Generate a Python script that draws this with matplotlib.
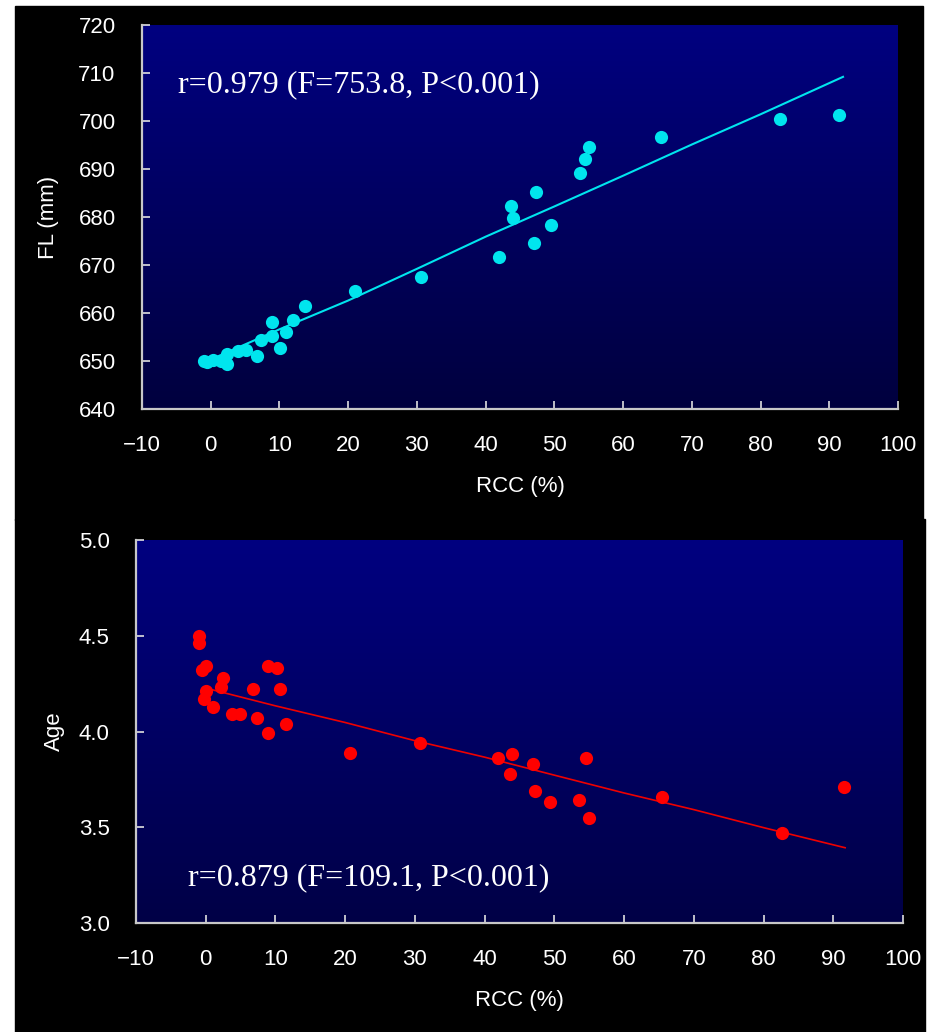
import numpy as np
import matplotlib
matplotlib.use("Agg")
import matplotlib.pyplot as plt
from matplotlib.patches import Rectangle

# --- data ---
# top panel: fork length vs RCC
rcc_fl = [-1.0, -0.5, 0.3, 1.5, 2.4, 2.4, 4.0, 5.1, 6.7, 7.3, 8.9, 8.9, 10.1, 11.0,
          11.9, 13.7, 21.0, 30.6, 41.9, 43.7, 44.0, 47.0, 47.3, 49.5, 53.7, 54.5,
          55.0, 65.5, 82.8, 91.4]
fl = [650.0, 649.8, 650.2, 650.0, 651.5, 649.4, 652.1, 652.3, 651.0, 654.4, 658.1,
      655.2, 652.7, 656.0, 658.5, 661.5, 664.6, 667.5, 671.7, 682.3, 679.8, 674.6,
      685.2, 678.3, 689.2, 692.1, 694.6, 696.7, 700.4, 701.2]
fl_line_x = [-0.5, 10, 20, 30, 40, 50, 60, 70, 80, 92]
fl_line_y = [650.0, 656.6, 662.6, 669.2, 675.9, 682.2, 688.6, 695.1, 701.4, 709.2]

# bottom panel: age vs RCC
rcc_age = [-0.9, -0.9, 0.0, -0.6, 2.5, 2.2, 0.0, -0.3, 1.1, 3.8, 4.9, 6.8, 7.4, 9.0,
           10.2, 10.7, 11.5, 9.0, 20.7, 30.7, 41.9, 43.9, 43.6, 47.0, 54.6, 47.2,
           49.4, 53.5, 54.9, 65.4, 82.7, 91.5]
age = [4.50, 4.46, 4.34, 4.32, 4.28, 4.23, 4.21, 4.17, 4.13, 4.09, 4.09, 4.22, 4.07,
       4.34, 4.33, 4.22, 4.04, 3.99, 3.89, 3.94, 3.86, 3.88, 3.78, 3.83, 3.86, 3.69,
       3.63, 3.64, 3.55, 3.66, 3.47, 3.71]
age_line_x = [0.5, 10, 20, 30, 40, 50, 60, 70, 80, 91.7]
age_line_y = [4.222, 4.134, 4.047, 3.952, 3.866, 3.772, 3.679, 3.592, 3.498, 3.393]

x_ticks = [-10, 0, 10, 20, 30, 40, 50, 60, 70, 80, 90, 100]
fl_ticks = [640, 650, 660, 670, 680, 690, 700, 710, 720]
age_ticks = [3.0, 3.5, 4.0, 4.5, 5.0]

SANS = ["Liberation Sans", "DejaVu Sans"]
SERIF = ["Liberation Serif", "DejaVu Serif"]

fig = plt.figure(figsize=(9.28, 10.32), dpi=100, facecolor="white")
W, H = 928.0, 1032.0

# black panel backgrounds, kept behind the axes
fig.add_artist(Rectangle((15 / W, 1 - 520 / H), 908 / W, 514 / H,
                         transform=fig.transFigure, color="black", zorder=-10))
fig.add_artist(Rectangle((15 / W, 0), 910 / W, 1 - 520 / H + 0.001,
                         transform=fig.transFigure, color="black", zorder=-10))


def gradient(ax, top=(0, 0, 128), bottom=(0, 0, 62)):
    g = np.linspace(0, 1, 256)[:, None]
    t = np.array(top) / 255.0
    b = np.array(bottom) / 255.0
    img = (t[None, None, :] * (1 - g[..., None]) + b[None, None, :] * g[..., None])
    ax.imshow(img, extent=[0, 1, 0, 1], transform=ax.transAxes, aspect="auto",
              zorder=0, interpolation="bilinear")


def style(ax):
    for s in ["top", "right"]:
        ax.spines[s].set_visible(False)
    for s in ["left", "bottom"]:
        ax.spines[s].set_color("#c8c8c8")
        ax.spines[s].set_linewidth(1.6)
    ax.tick_params(direction="in", length=6, width=1.2, color="#e0e0e0",
                   labelcolor="white", labelsize=16, pad=19)
    for lab in ax.get_xticklabels() + ax.get_yticklabels():
        lab.set_family(SANS)


# --- top panel ---
ax1 = fig.add_axes([142 / W, 1 - 409 / H, 756 / W, 384 / H])
ax1.set_facecolor("none")
gradient(ax1)
ax1.plot(fl_line_x, fl_line_y, color="#00e5ee", lw=1.5, zorder=2)
ax1.plot(rcc_fl, fl, "o", color="#00e5ee", ms=9.5, mec="none", zorder=3)
ax1.set_xlim(-10, 100)
ax1.set_ylim(640, 720)
ax1.set_xticks(x_ticks)
ax1.set_yticks(fl_ticks)
style(ax1)
ax1.set_xlabel("RCC (%)", color="white", fontsize=16, family=SANS, labelpad=14)
ax1.set_ylabel("FL (mm)", color="white", fontsize=16, family=SANS, labelpad=14)
ax1.text(0.047, 0.845, "r=0.979 (F=753.8, P<0.001)", transform=ax1.transAxes,
         color="white", fontsize=23, family=SERIF, va="center", ha="left")

# --- bottom panel ---
ax2 = fig.add_axes([136 / W, 1 - 923 / H, 767 / W, 383 / H])
ax2.set_facecolor("none")
gradient(ax2, bottom=(0, 0, 70))
ax2.plot(age_line_x, age_line_y, color="#ee0000", lw=1.2, zorder=2)
ax2.plot(rcc_age, age, "o", color="#ff0000", ms=9.5, mec="none", zorder=3)
ax2.set_xlim(-10, 100)
ax2.set_ylim(3.0, 5.0)
ax2.set_xticks(x_ticks)
ax2.set_yticks(age_ticks)
ax2.set_yticklabels([f"{v:.1f}" for v in age_ticks])
style(ax2)
ax2.set_xlabel("RCC (%)", color="white", fontsize=16, family=SANS, labelpad=14)
ax2.set_ylabel("Age", color="white", fontsize=16, family=SANS, labelpad=10)
ax2.text(0.068, 0.118, "r=0.879 (F=109.1, P<0.001)", transform=ax2.transAxes,
         color="white", fontsize=23, family=SERIF, va="center", ha="left")

fig.savefig("out.png", dpi=100, facecolor="white")
